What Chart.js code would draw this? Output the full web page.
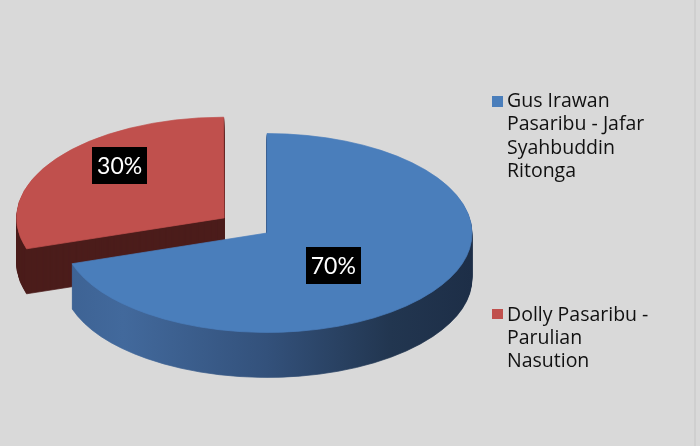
<!DOCTYPE html>
<html><head><meta charset="utf-8">
<script src="https://cdn.jsdelivr.net/npm/chart.js@4.4.1/dist/chart.umd.min.js"></script>
<style>
html,body{margin:0;padding:0;background:#d9d9d9;}
#wrap{position:relative;width:700px;height:446px;background:#d9d9d9;overflow:hidden}
#edge{position:absolute;left:694px;top:0;width:2px;height:446px;background:#cfcfcf}
canvas{position:absolute;left:0;top:0}
.leg{position:absolute;left:507px;font-family:'Open Sans',sans-serif;font-size:19.5px;line-height:23.3px;color:#111;white-space:nowrap}
.sw{position:absolute;left:492px;width:10.5px;height:10.5px}
</style>
</head><body>
<div id="wrap"><canvas id="c" width="700" height="446"></canvas><div id="edge"></div></div>
<script>
// ---- data ----
const categories = ['Gus Irawan Pasaribu - Jafar Syahbuddin Ritonga', 'Dolly Pasaribu - Parulian Nasution'];
const legendLines = [['Gus Irawan', 'Pasaribu - Jafar', 'Syahbuddin', 'Ritonga'], ['Dolly Pasaribu -', 'Parulian', 'Nasution']];
const shares = [70, 30];

// ---- styles ----
const topColors = ['#4a7ebb', '#c0504d'];
const sideRed = '#4b1d1b';
const K = 0.485;       // vertical squash of the pie (tilt)
const DEPTH = 45;      // thickness of the pie in px
const labelRadiusX = [0.40, 0.63];
const labelRadiusY = [0.56, 0.90];
const legendTops = [88, 301.5];
const swatchTops = [96, 308.5];

const pie3d = {
  id: 'pie3d',
  beforeDatasetsDraw(chart) {
    const ctx = chart.ctx;
    const meta = chart.getDatasetMeta(0);
    const cx = meta.data[0].x, cy = meta.data[0].y, r = meta.data[0].outerRadius;
    const grad = ctx.createLinearGradient(cx - r, 0, cx + r, 0);
    grad.addColorStop(0, '#3d6293');
    grad.addColorStop(0.15, '#42699c');
    grad.addColorStop(0.5, '#33517b');
    grad.addColorStop(0.8, '#223650');
    grad.addColorStop(1, '#1d2e47');
    const sides = [grad, sideRed];
    for (let d = DEPTH; d >= 1; d--) {
      ctx.save();
      ctx.translate(cx, cy + d); ctx.scale(1, K); ctx.translate(-cx, -cy);
      meta.data.forEach((arc, i) => {
        const ghost = Object.create(arc);
        ghost.options = Object.assign({}, arc.options, {backgroundColor: sides[i], borderColor: sides[i]});
        ghost.draw(ctx);
      });
      ctx.restore();
    }
    ctx.save();
    ctx.translate(cx, cy); ctx.scale(1, K); ctx.translate(-cx, -cy);
  },
  afterDatasetsDraw(chart) {
    const ctx = chart.ctx;
    ctx.restore();
    const meta = chart.getDatasetMeta(0);
    const total = shares.reduce((a, b) => a + b, 0);
    meta.data.forEach((arc, i) => {
      const h = (arc.startAngle + arc.endAngle) / 2;
      const off = (arc.options.offset || 0) / 4;
      const x = arc.x + Math.cos(h) * (arc.outerRadius * labelRadiusX[i] + off);
      const y = arc.y + Math.sin(h) * (arc.outerRadius * labelRadiusY[i] + off) * K;
      const text = Math.round(shares[i] / total * 100) + '%';
      ctx.font = '23px Lato';
      const w = ctx.measureText(text).width + 10, hh = 37;
      ctx.fillStyle = '#000';
      ctx.fillRect(Math.round(x - w / 2), Math.round(y - hh / 2), Math.round(w), hh);
      ctx.fillStyle = '#fff';
      ctx.textAlign = 'center';
      ctx.textBaseline = 'middle';
      ctx.fillText(text, x, y + 1);
    });
  }
};

new Chart(document.getElementById('c'), {
  type: 'pie',
  data: {
    labels: categories,
    datasets: [{
      data: shares,
      backgroundColor: topColors,
      borderColor: topColors,
      borderWidth: 1,
      offset: [0, 212],
      radius: 205,
      clip: false
    }]
  },
  options: {
    responsive: false,
    animation: false,
    events: [],
    layout: {padding: {left: 0, right: 166, top: 20, bottom: 0}},
    plugins: {legend: {display: false}, tooltip: {enabled: false}}
  },
  plugins: [pie3d]
});

// legend (HTML text)
const wrap = document.getElementById('wrap');
legendLines.forEach((lines, i) => {
  const sw = document.createElement('div');
  sw.className = 'sw';
  sw.style.top = swatchTops[i] + 'px';
  sw.style.background = topColors[i];
  wrap.appendChild(sw);
  const t = document.createElement('div');
  t.className = 'leg';
  t.style.top = legendTops[i] + 'px';
  t.innerHTML = lines.join('<br>');
  wrap.appendChild(t);
});
</script>
</body></html>
